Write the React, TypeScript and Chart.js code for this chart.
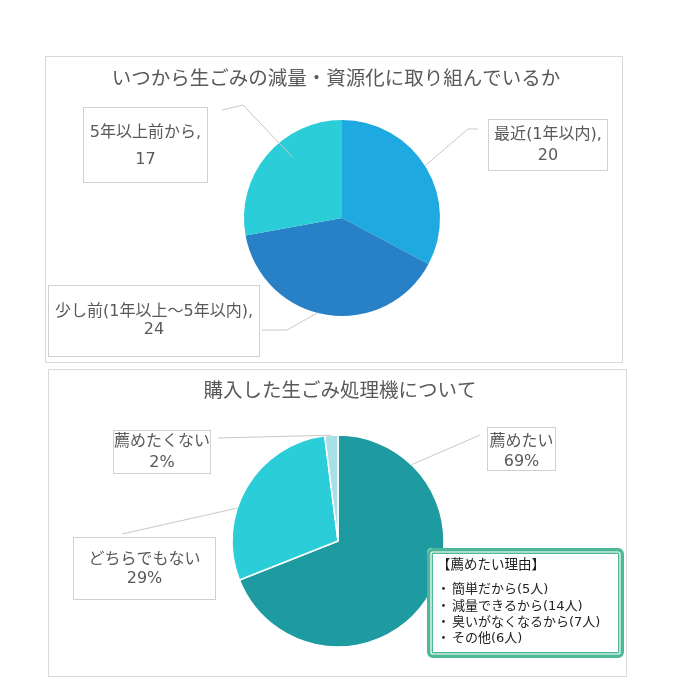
import React, { useEffect, useRef } from "react";
import { Chart, registerables } from "chart.js";

Chart.register(...registerables);

const FONT = '"Noto Sans CJK JP", "Noto Sans", sans-serif';
const LABEL_FONT = '"DejaVu Sans", "Noto Sans CJK JP", sans-serif';
const TEXT_COLOR = "#595959";

// ---- Chart 1 data ----
const TITLE1 = "いつから生ごみの減量・資源化に取り組んでいるか";
const CATS1 = ["最近(1年以内)", "少し前(1年以上～5年以内)", "5年以上前から"];
const VALUES1 = [20, 24, 17];
const COLORS1 = ["#1EA9E1", "#2881C7", "#2BCDD8"];

// ---- Chart 2 data ----
const TITLE2 = "購入した生ごみ処理機について";
const CATS2 = ["薦めたい", "どちらでもない", "薦めたくない"];
const VALUES2 = [69, 29, 2];
const COLORS2 = ["#1E9BA1", "#2BCDD8", "#A6DFE6"];

// ---- Callout text ----
const REASON_TITLE = "【薦めたい理由】";
const REASONS = ["簡単だから(5人)", "減量できるから(14人)", "臭いがなくなるから(7人)", "その他(6人)"];

// ---- Layout (positions / sizes of annotations, not data) ----
type LabelLayout = {
  box: [number, number, number, number]; // x, y, w, h
  lines: [number, number]; // y of the two text lines
  leader: [number, number][]; // box-side points of leader line
  t: number; // fraction along the slice angle for leader end
  rf: number; // fraction of radius for leader end
};

const LAYOUT1 = {
  canvas: { left: 45, top: 56, width: 578, height: 307 },
  title: { x: 291, y: 22, size: 19.5 },
  padding: { left: 120, right: 104, top: 60, bottom: 43 },
  radius: 98,
  border: 0,
  labels: [
    { box: [443, 63, 120, 52], lines: [79, 100], leader: [[433, 73], [423, 73]], t: 0.49, rf: 1.0 },
    { box: [3, 229, 212, 72], lines: [256, 274], leader: [[217, 274], [242, 274]], t: 0.54, rf: 1.0 },
    { box: [38, 51, 125, 76], lines: [77, 104], leader: [[177, 54], [198, 49]], t: 0.61, rf: 0.8 },
  ] as LabelLayout[],
};

const LAYOUT2 = {
  canvas: { left: 48, top: 369, width: 579, height: 308 },
  title: { x: 292, y: 21, size: 19.5 },
  padding: { left: 120, right: 119, top: 60, bottom: 24 },
  radius: 106,
  border: 1.5,
  labels: [
    { box: [439, 58, 69, 44], lines: [73, 93], leader: [[432, 66]], t: 0.177, rf: 1.0 },
    { box: [25, 168, 143, 63], lines: [191, 210], leader: [[74, 165]], t: 0.38, rf: 1.0 },
    { box: [65, 61, 98, 44], lines: [73, 94], leader: [[170, 69]], t: 0.5, rf: 1.0 },
  ] as LabelLayout[],
  callout: { x: 379, y: 179, w: 197, h: 110, headerX: 389, headerY: 196, bulletX: 389, itemX: 404, itemY0: 221, itemStep: 16.3 },
};

function roundRect(ctx: CanvasRenderingContext2D, x: number, y: number, w: number, h: number, r: number) {
  ctx.beginPath();
  ctx.moveTo(x + r, y);
  ctx.lineTo(x + w - r, y);
  ctx.arcTo(x + w, y, x + w, y + r, r);
  ctx.lineTo(x + w, y + h - r);
  ctx.arcTo(x + w, y + h, x + w - r, y + h, r);
  ctx.lineTo(x + r, y + h);
  ctx.arcTo(x, y + h, x, y + h - r, r);
  ctx.lineTo(x, y + r);
  ctx.arcTo(x, y, x + r, y, r);
  ctx.closePath();
}

function makeDecorPlugin(layout: any, title: string, lineText: (i: number) => [string, string], withCallout: boolean) {
  return {
    id: "decor",
    beforeDraw(chart: any) {
      const ctx: CanvasRenderingContext2D = chart.ctx;
      ctx.save();
      ctx.fillStyle = "#ffffff";
      ctx.fillRect(0, 0, chart.width, chart.height);
      ctx.strokeStyle = "#D9D9D9";
      ctx.lineWidth = 1;
      ctx.strokeRect(0.5, 0.5, chart.width - 1, chart.height - 1);
      ctx.fillStyle = TEXT_COLOR;
      ctx.font = `${layout.title.size}px ${FONT}`;
      ctx.textAlign = "center";
      ctx.textBaseline = "middle";
      ctx.fillText(title, layout.title.x, layout.title.y);
      ctx.restore();
    },
    afterDatasetsDraw(chart: any) {
      const ctx: CanvasRenderingContext2D = chart.ctx;
      const meta = chart.getDatasetMeta(0);
      ctx.save();
      layout.labels.forEach((lab: LabelLayout, i: number) => {
        const arc = meta.data[i];
        if (!arc) return;
        const a = arc.startAngle + lab.t * (arc.endAngle - arc.startAngle);
        const px = arc.x + Math.cos(a) * arc.outerRadius * lab.rf;
        const py = arc.y + Math.sin(a) * arc.outerRadius * lab.rf;
        // leader
        ctx.strokeStyle = "#C8C8C8";
        ctx.lineWidth = 1;
        ctx.beginPath();
        ctx.moveTo(lab.leader[0][0], lab.leader[0][1]);
        for (let k = 1; k < lab.leader.length; k++) ctx.lineTo(lab.leader[k][0], lab.leader[k][1]);
        ctx.lineTo(px, py);
        ctx.stroke();
        // box
        const [bx, by, bw, bh] = lab.box;
        ctx.fillStyle = "#ffffff";
        ctx.fillRect(bx, by, bw, bh);
        ctx.strokeStyle = "#D0D0D0";
        ctx.strokeRect(bx + 0.5, by + 0.5, bw - 1, bh - 1);
        // text
        const [l1, l2] = lineText(i);
        ctx.fillStyle = TEXT_COLOR;
        ctx.font = `16px ${LABEL_FONT}`;
        ctx.textAlign = "center";
        ctx.textBaseline = "middle";
        ctx.fillText(l1, bx + bw / 2, lab.lines[0]);
        ctx.fillText(l2, bx + bw / 2, lab.lines[1]);
      });
      if (withCallout) {
        const c = layout.callout;
        ctx.fillStyle = "#ffffff";
        roundRect(ctx, c.x, c.y, c.w, c.h, 5);
        ctx.fill();
        ctx.strokeStyle = "#4DB897";
        ctx.lineWidth = 6;
        roundRect(ctx, c.x + 3, c.y + 3, c.w - 6, c.h - 6, 3);
        ctx.stroke();
        ctx.strokeStyle = "#ffffff";
        ctx.lineWidth = 1.2;
        roundRect(ctx, c.x + 4, c.y + 4, c.w - 8, c.h - 8, 2);
        ctx.stroke();
        ctx.fillStyle = "#222222";
        ctx.textAlign = "left";
        ctx.textBaseline = "middle";
        ctx.font = `13.5px ${LABEL_FONT}`;
        ctx.fillText(REASON_TITLE, c.headerX, c.headerY);
        ctx.font = `13px ${LABEL_FONT}`;
        REASONS.forEach((r, k) => {
          const y = c.itemY0 + k * c.itemStep;
          ctx.fillText("・", c.bulletX, y);
          ctx.fillText(r, c.itemX, y);
        });
      }
      ctx.restore();
    },
  };
}

function PieBox(props: {
  layout: any;
  title: string;
  cats: string[];
  values: number[];
  colors: string[];
  lineText: (i: number) => [string, string];
  callout: boolean;
}) {
  const ref = useRef<HTMLCanvasElement | null>(null);
  const { layout } = props;
  useEffect(() => {
    if (!ref.current) return;
    const chart = new Chart(ref.current, {
      type: "pie",
      data: {
        labels: props.cats,
        datasets: [
          {
            data: props.values,
            backgroundColor: props.colors,
            borderColor: "#ffffff",
            borderWidth: layout.border,
            radius: layout.radius,
          } as any,
        ],
      },
      options: {
        responsive: false,
        animation: false,
        devicePixelRatio: 1,
        layout: { padding: layout.padding },
        plugins: {
          legend: { display: false },
          tooltip: { enabled: false },
          title: { display: false },
        },
        events: [],
      },
      plugins: [makeDecorPlugin(layout, props.title, props.lineText, props.callout)],
    });
    return () => chart.destroy();
  }, []);
  return (
    <canvas
      ref={ref}
      width={layout.canvas.width}
      height={layout.canvas.height}
      style={{
        position: "absolute",
        left: layout.canvas.left,
        top: layout.canvas.top,
        width: layout.canvas.width,
        height: layout.canvas.height,
      }}
    />
  );
}

export default function App() {
  return (
    <div style={{ position: "absolute", left: 0, top: 0, width: 690, height: 698, background: "#ffffff" }}>
      <PieBox
        layout={LAYOUT1}
        title={TITLE1}
        cats={CATS1}
        values={VALUES1}
        colors={COLORS1}
        lineText={(i) => [`${CATS1[i]},`, `${VALUES1[i]}`]}
        callout={false}
      />
      <PieBox
        layout={LAYOUT2}
        title={TITLE2}
        cats={CATS2}
        values={VALUES2}
        colors={COLORS2}
        lineText={(i) => [CATS2[i], `${VALUES2[i]}%`]}
        callout={true}
      />
    </div>
  );
}
